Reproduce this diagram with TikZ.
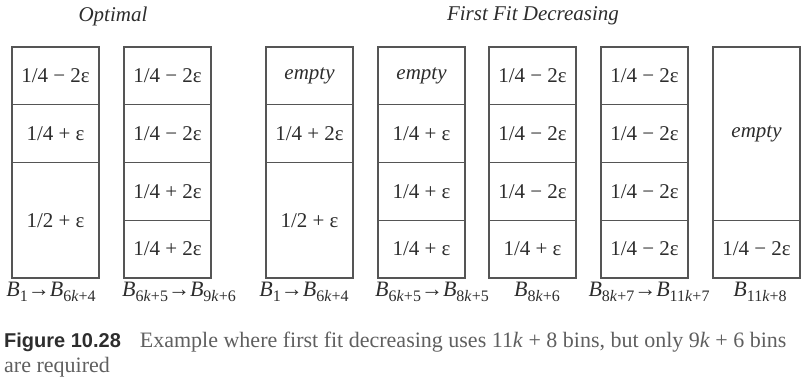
\documentclass[tikz,border=0pt]{standalone}
\usepackage{fontspec}
\setmainfont{Liberation Serif}
\setsansfont{Liberation Sans}
\usetikzlibrary{positioning}
\definecolor{boxgray}{RGB}{85,85,85}
\definecolor{inkgray}{RGB}{45,45,45}
\definecolor{capgray}{RGB}{95,95,95}
\newcommand{\binname}[1]{\textit{B}\raisebox{-5pt}{\fontsize{16}{16}\selectfont #1}}
\newcommand{\kk}{\textit{k}}

\begin{document}
\begin{tikzpicture}[x=1pt,y=-1pt,
  cell/.style={draw=boxgray, line width=1.1pt, minimum width=87pt, minimum height=57.75pt, inner sep=0pt, text=inkgray, font=\fontsize{21}{24}\selectfont},
  halfcell/.style={cell, minimum height=115.5pt},
  tallcell/.style={cell, minimum height=173.25pt},
  binlabel/.style={anchor=base, text=inkgray, font=\fontsize{22}{24}\selectfont, inner sep=0pt},
  heading/.style={text=inkgray, font=\fontsize{21}{24}\selectfont\itshape}]
\useasboundingbox (0,0) rectangle (808,382);
% headings
\node[heading] (opt) at (113,16) {Optimal};
\node[heading] (ffd) at (533,16) {First Fit Decreasing};
% optimal packing
\node[cell] (o1a) at (55.5,75.9) {1/4 − 2ε};
\node[cell] (o1b) at (55.5,133.6) {1/4 + ε};
\node[halfcell] (o1c) at (55.5,220.25) {1/2 + ε};
\node[cell] (o2a) at (167.5,75.9) {1/4 − 2ε};
\node[cell] (o2b) at (167.5,133.6) {1/4 − 2ε};
\node[cell] (o2c) at (167.5,191.4) {1/4 + 2ε};
\node[cell] (o2d) at (167.5,249.1) {1/4 + 2ε};
% first fit decreasing
\node[cell] (f1a) at (309.5,75.9) {\textit{empty}};
\node[cell] (f1b) at (309.5,133.6) {1/4 + 2ε};
\node[halfcell] (f1c) at (309.5,220.25) {1/2 + ε};
\node[cell] (f2a) at (421.5,75.9) {\textit{empty}};
\node[cell] (f2b) at (421.5,133.6) {1/4 + ε};
\node[cell] (f2c) at (421.5,191.4) {1/4 + ε};
\node[cell] (f2d) at (421.5,249.1) {1/4 + ε};
\node[cell] (f3a) at (532.5,75.9) {1/4 − 2ε};
\node[cell] (f3b) at (532.5,133.6) {1/4 − 2ε};
\node[cell] (f3c) at (532.5,191.4) {1/4 − 2ε};
\node[cell] (f3d) at (532.5,249.1) {1/4 + ε};
\node[cell] (f4a) at (644.5,75.9) {1/4 − 2ε};
\node[cell] (f4b) at (644.5,133.6) {1/4 − 2ε};
\node[cell] (f4c) at (644.5,191.4) {1/4 − 2ε};
\node[cell] (f4d) at (644.5,249.1) {1/4 − 2ε};
\node[tallcell] (f5a) at (756.5,133.6) {\textit{empty}};
\node[cell] (f5b) at (756.5,249.1) {1/4 − 2ε};
% bin ranges
\node[binlabel] (lo1) at (51,296) {\binname{1}→\binname{6\kk+4}};
\node[binlabel] (lo2) at (179,296) {\binname{6\kk+5}→\binname{9\kk+6}};
\node[binlabel] (lf1) at (304,296) {\binname{1}→\binname{6\kk+4}};
\node[binlabel] (lf2) at (432,296) {\binname{6\kk+5}→\binname{8\kk+5}};
\node[binlabel] (lf3) at (537,296) {\binname{8\kk+6}};
\node[binlabel] (lf4) at (649,296) {\binname{8\kk+7}→\binname{11\kk+7}};
\node[binlabel] (lf5) at (760,296) {\binname{11\kk+8}};
% caption
\node[anchor=base west, inner sep=0pt, text=capgray, font=\fontsize{22}{24}\selectfont] (cap1) at (4,347)
  {\textcolor{inkgray}{\textsf{\textbf{\fontsize{20}{24}\selectfont Figure 10.28}}}\hspace{19pt}Example where first fit decreasing uses 11\kk{} + 8 bins, but only 9\kk{} + 6 bins};
\node[anchor=base west, inner sep=0pt, text=capgray, font=\fontsize{22}{24}\selectfont] (cap2) at (4,372) {are required};
\end{tikzpicture}
\end{document}
